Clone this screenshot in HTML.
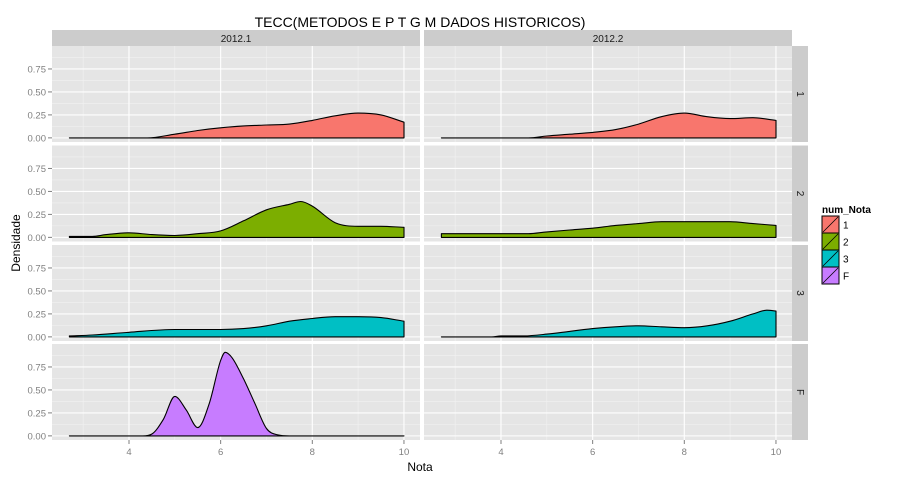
<!DOCTYPE html>
<html><head><meta charset="utf-8"><style>
body{margin:0;background:#fff;}
svg{display:block;font-family:"Liberation Sans",Arial,sans-serif;}
</style></head><body>
<svg id="c" width="900" height="480"></svg>
<script>
const colCats=["2012.1","2012.2"];
const rowCats=["1","2","3","F"];
const fills={"1":"#F8766D","2":"#7CAE00","3":"#00BFC4","F":"#C77CFF"};
const xTicks=[4,6,8,10];
const yTicks=[0,0.25,0.5,0.75];
const yTickLabels=["0.00","0.25","0.50","0.75"];
// series: x and density values per facet
const x_2012_1_1=[2.7,4.4,5,5.5,6,6.5,7,7.5,8,8.5,9,9.5,10];
const y_2012_1_1=[0,0,0.04,0.08,0.11,0.13,0.14,0.15,0.19,0.24,0.27,0.25,0.17];
const x_2012_1_2=[2.7,3.2,3.5,4,4.5,5,5.5,6,6.5,7,7.5,7.75,8,8.5,9,9.5,10];
const y_2012_1_2=[0.01,0.01,0.03,0.05,0.03,0.02,0.04,0.07,0.18,0.30,0.36,0.39,0.34,0.16,0.12,0.12,0.11];
const x_2012_1_3=[2.7,3.2,4,5,6,6.5,7,7.5,8,8.5,9,9.5,10];
const y_2012_1_3=[0.01,0.02,0.05,0.08,0.08,0.09,0.12,0.17,0.20,0.22,0.22,0.21,0.17];
const x_2012_1_F=[2.7,4.3,4.5,4.75,5,5.25,5.5,5.75,6,6.1,6.25,6.5,6.75,7,7.25,7.5,10];
const y_2012_1_F=[0,0,0.02,0.18,0.43,0.28,0.09,0.35,0.82,0.91,0.85,0.62,0.35,0.08,0.01,0,0];
const x_2012_2_1=[2.7,4.6,5,5.5,6,6.5,7,7.5,8,8.5,9,9.5,10];
const y_2012_2_1=[0,0,0.02,0.04,0.06,0.09,0.15,0.23,0.27,0.23,0.21,0.22,0.19];
const x_2012_2_2=[2.7,4.6,5,5.5,6,6.5,7,7.5,8,8.5,9,9.5,10];
const y_2012_2_2=[0.04,0.04,0.06,0.08,0.10,0.13,0.15,0.17,0.17,0.17,0.17,0.15,0.13];
const x_2012_2_3=[2.7,3.8,4,4.5,5,5.5,6,6.5,7,7.5,8,8.5,9,9.5,9.8,10];
const y_2012_2_3=[0,0,0.01,0.01,0.03,0.06,0.09,0.11,0.12,0.11,0.10,0.12,0.17,0.25,0.29,0.28];
const series={
 "2012.1|1":[x_2012_1_1,y_2012_1_1],"2012.1|2":[x_2012_1_2,y_2012_1_2],
 "2012.1|3":[x_2012_1_3,y_2012_1_3],"2012.1|F":[x_2012_1_F,y_2012_1_F],
 "2012.2|1":[x_2012_2_1,y_2012_2_1],"2012.2|2":[x_2012_2_2,y_2012_2_2],
 "2012.2|3":[x_2012_2_3,y_2012_2_3]
};
const NS="http://www.w3.org/2000/svg";
const svg=document.getElementById("c");
function mk(t,a,p){const e=document.createElementNS(NS,t);for(const k in a)e.setAttribute(k,a[k]);(p||svg).appendChild(e);return e;}
const colX=[52,424], panelW=368;
const rowY=[46,145.5,245,344], panelH=96;
const xMin=2.32,xMax=10.35,yMin=-0.045,yMax=1.0;
function sx(c,v){return colX[c]+(v-xMin)/(xMax-xMin)*panelW;}
function sy(r,v){return rowY[r]+(yMax-v)/(yMax-yMin)*panelH;}
// monotone cubic path through pixel points
function monotone(px,py){
  const n=px.length,d=[],m=new Array(n);
  for(let i=0;i<n-1;i++)d.push((py[i+1]-py[i])/(px[i+1]-px[i]));
  m[0]=d[0];m[n-1]=d[n-2];
  for(let i=1;i<n-1;i++){m[i]=(d[i-1]*d[i]<=0)?0:(d[i-1]+d[i])/2;}
  for(let i=0;i<n-1;i++){
    if(d[i]===0){m[i]=0;m[i+1]=0;continue;}
    const a=m[i]/d[i],b=m[i+1]/d[i],s=a*a+b*b;
    if(s>9){const t=3/Math.sqrt(s);m[i]=t*a*d[i];m[i+1]=t*b*d[i];}
  }
  let p="";
  for(let i=0;i<n-1;i++){
    const h=(px[i+1]-px[i])/3;
    p+=` C${(px[i]+h).toFixed(1)},${(py[i]+m[i]*h).toFixed(1)} ${(px[i+1]-h).toFixed(1)},${(py[i+1]-m[i+1]*h).toFixed(1)} ${px[i+1].toFixed(1)},${py[i+1].toFixed(1)}`;
  }
  return p;
}

let t=mk("text",{x:420,y:27,"text-anchor":"middle","font-size":14,fill:"#000"});


t.textContent="TECC(METODOS E P T G M DADOS HISTORICOS)";

colCats.forEach((cc,c)=>{
  const s=mk("rect",{x:colX[c],y:30,width:panelW,height:16,fill:"#cccccc"});
  
  
  const st=mk("text",{x:colX[c]+panelW/2,y:42,"text-anchor":"middle","font-size":10,fill:"#1a1a1a"});
  
  
  st.textContent=cc;
});
rowCats.forEach((rc,r)=>{
  const s=mk("rect",{x:792,y:rowY[r],width:16,height:panelH,fill:"#cccccc"});
  
  
  const st=mk("text",{x:0,y:0,"text-anchor":"middle","font-size":10,fill:"#1a1a1a",transform:`translate(797,${rowY[r]+panelH/2}) rotate(90)`});
  
  
  st.textContent=rc;
});
colCats.forEach((cc,c)=>{
  rowCats.forEach((rc,r)=>{
    const p=mk("rect",{x:colX[c],y:rowY[r],width:panelW,height:panelH,fill:"#e5e5e5"});
    
    
    for(let v=3;v<=10;v+=2){mk("line",{x1:sx(c,v),x2:sx(c,v),y1:rowY[r],y2:rowY[r]+panelH,stroke:"#f2f2f2","stroke-width":0.6});}
    for(const v of [0.125,0.375,0.625,0.875]){mk("line",{x1:colX[c],x2:colX[c]+panelW,y1:sy(r,v),y2:sy(r,v),stroke:"#f2f2f2","stroke-width":0.6});}
    xTicks.forEach(v=>mk("line",{x1:sx(c,v),x2:sx(c,v),y1:rowY[r],y2:rowY[r]+panelH,stroke:"#fff","stroke-width":1.1}));
    yTicks.forEach(v=>mk("line",{x1:colX[c],x2:colX[c]+panelW,y1:sy(r,v),y2:sy(r,v),stroke:"#fff","stroke-width":1.1}));
    const d=series[cc+"|"+rc];
    if(d){
      const [xs,ys]=d;
      const px=xs.map(x=>sx(c,x)),py=ys.map(y=>sy(r,y));
      let path=`M${px[0].toFixed(1)},${sy(r,0).toFixed(1)} L${px[0].toFixed(1)},${py[0].toFixed(1)}`;
      path+=monotone(px,py);
      path+=` L${px[px.length-1].toFixed(1)},${sy(r,0).toFixed(1)} Z`;
      const a=mk("path",{d:path,fill:fills[rc],stroke:"#000","stroke-width":1.1,"stroke-linejoin":"round"});
      
      
    }
    if(c===0){
      yTicks.forEach((v,i)=>{
        mk("line",{x1:48,x2:52,y1:sy(r,v),y2:sy(r,v),stroke:"#7f7f7f"});
        const l=mk("text",{x:46,y:sy(r,v)+3.5,"text-anchor":"end","font-size":9.5,fill:"#7f7f7f"});
        
        
        l.textContent=yTickLabels[i];
      });
    }
  });
  xTicks.forEach(v=>{
    mk("line",{x1:sx(c,v),x2:sx(c,v),y1:440,y2:444,stroke:"#7f7f7f"});
    const l=mk("text",{x:sx(c,v),y:455,"text-anchor":"middle","font-size":9.5,fill:"#7f7f7f"});
    
    
    l.textContent=v;
  });
});
t=mk("text",{x:420,y:471,"text-anchor":"middle","font-size":12,fill:"#000"});


t.textContent="Nota";
t=mk("text",{x:0,y:0,"text-anchor":"middle","font-size":12,fill:"#000",transform:"translate(20,243) rotate(-90)"});


t.textContent="Densidade";
t=mk("text",{x:822,y:213,"font-size":10,"font-weight":"bold",fill:"#000"});


t.textContent="num_Nota";
rowCats.forEach((rc,i)=>{
  const y=216+i*17;
  const g=mk("g",{});
  
  
  mk("rect",{x:822,y:y,width:17,height:17,fill:fills[rc],stroke:"#000","stroke-width":1},g);
  mk("line",{x1:823,y1:y+16,x2:838,y2:y+1,stroke:"#000","stroke-width":0.8},g);
  const l=mk("text",{x:843,y:y+12.5,"font-size":10,fill:"#000"},g);
  l.textContent=rc;
});
</script>
</body></html>
